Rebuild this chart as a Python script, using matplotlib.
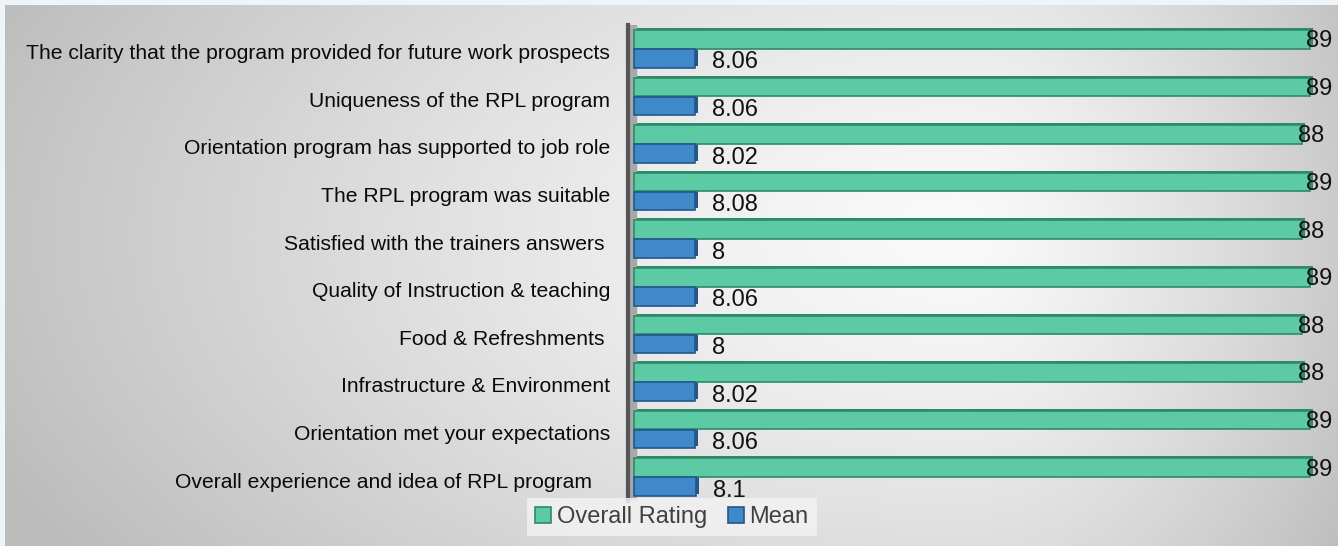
import numpy as np
import matplotlib
matplotlib.use("Agg")
import matplotlib.pyplot as plt
from matplotlib.transforms import ScaledTranslation

plt.rcParams['font.family'] = ['Liberation Sans', 'DejaVu Sans']

# data, top row first
categories = [
    "The clarity that the program provided for future work prospects",
    "Uniqueness of the RPL program",
    "Orientation program has supported to job role",
    "The RPL program was suitable",
    "Satisfied with the trainers answers ",
    "Quality of Instruction & teaching",
    "Food & Refreshments ",
    "Infrastructure & Environment",
    "Orientation met your expectations",
    "Overall experience and idea of RPL program   ",
]
overall_rating = [89, 89, 88, 89, 88, 89, 88, 88, 89, 89]
mean_score = [8.06, 8.06, 8.02, 8.08, 8, 8.06, 8, 8.02, 8.06, 8.1]

W, H = 1338, 546
fig = plt.figure(figsize=(W / 100, H / 100), dpi=100)
fig.patch.set_facecolor('#eef4f8')

# background gradient panel
bg = fig.add_axes([5 / W, 0, 1 - 5 / W, 1 - 5 / H])
xx, yy = np.meshgrid(np.arange(W - 5), np.arange(H - 5))
u = (xx - 955) / np.where(xx < 955, 950.0, 420.0)
v = (yy - 230) / 520.0
d = np.clip(np.sqrt(u ** 2 + v ** 2), 0, 1.1)
g = (250 - 54 * d ** 1.3) / 255.0
bg.imshow(np.dstack([g, g, g]), aspect='auto', extent=[0, 1, 0, 1])
bg.axis('off')

ax = fig.add_axes([628 / W, 45 / H, 1 - 628 / W, 476 / H])
ax.patch.set_alpha(0)
y = np.arange(len(categories))

green, green_dk = '#5ccba5', '#2f8a69'
blue, blue_dk = '#3f88c9', '#23578a'

# 3d depth faces
depth = ax.transData + ScaledTranslation(3 / 100, 2 / 100, fig.dpi_scale_trans)
ax.barh(y - 0.2, overall_rating, height=0.39, color=green_dk, transform=depth, zorder=2)
ax.barh(y + 0.2, mean_score, height=0.39, color=blue_dk, transform=depth, zorder=2)

ax.barh(y - 0.2, overall_rating, height=0.39, color=green, edgecolor=green_dk,
        linewidth=1.2, zorder=3, label='Overall Rating')
ax.barh(y + 0.2, mean_score, height=0.39, color=blue, edgecolor=blue_dk,
        linewidth=1.2, zorder=3, label='Mean')

# wall
ax.axvspan(-0.8, 0.2, color='#a8a8a8', zorder=1)

for i in range(len(categories)):
    ax.annotate('{:g}'.format(overall_rating[i]), (overall_rating[i], y[i] - 0.2),
                xytext=(-4, -2), textcoords='offset pixels', va='center', ha='left',
                fontsize=17, color='#111111', zorder=5)
    ax.annotate('{:g}'.format(mean_score[i]), (mean_score[i], y[i] + 0.2),
                xytext=(17, -4), textcoords='offset pixels', va='center', ha='left',
                fontsize=17, color='#111111', zorder=5)

ax.set_xlim(-0.8, 92.7)
ax.set_ylim(len(categories) - 0.5, -0.5)
ax.set_yticks(y + 0.06)
ax.set_yticklabels(categories, fontsize=15.2, color='#0a0a0a')
ax.tick_params(axis='y', length=0, pad=13)
ax.set_xticks([])
for s in ['top', 'right', 'bottom']:
    ax.spines[s].set_visible(False)
ax.spines['left'].set_color('#555555')
ax.spines['left'].set_linewidth(3)

leg = fig.legend(loc='center', bbox_to_anchor=(672 / W, 1 - 517 / H), ncol=2,
                 fontsize=17, frameon=True, handlelength=0.65, handleheight=0.65,
                 handletextpad=0.25, columnspacing=0.9, borderpad=0.35,
                 borderaxespad=0, fancybox=False)
leg.get_frame().set_facecolor('#f2f2f2')
leg.get_frame().set_edgecolor('none')
leg.get_frame().set_alpha(0.85)
for t in leg.get_texts():
    t.set_color('#404040')

fig.savefig('out.png', dpi=100)
